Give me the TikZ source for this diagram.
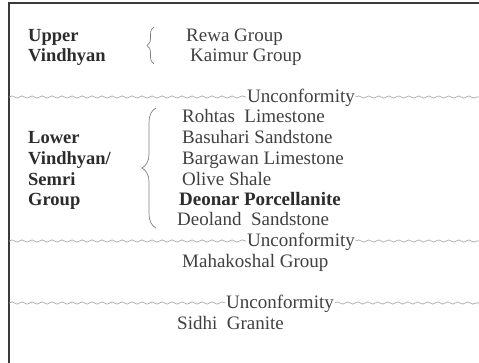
\documentclass[tikz,border=0pt]{standalone}
\usepackage{fontspec}
\setmainfont{Liberation Serif}
\usetikzlibrary{decorations.pathmorphing,decorations.pathreplacing}
\definecolor{txt}{HTML}{404040}
\definecolor{bld}{HTML}{2C2C2C}
\definecolor{wave}{HTML}{A0A0A0}
\definecolor{frm}{HTML}{3A3A3A}
\definecolor{brcol}{HTML}{808080}
\begin{document}
\begin{tikzpicture}[x=1pt,y=-1pt,
  lbl/.style={font=\fontsize{19}{21}\selectfont, text=txt, anchor=base west, inner sep=0pt},
  bl/.style={font=\bfseries\fontsize{18.5}{21}\selectfont, text=bld, anchor=base west, inner sep=0pt},
  unc/.style={font=\fontsize{19}{21}\selectfont, text=txt, anchor=base, inner sep=0.5pt},
  wavy/.style={draw=wave, line width=0.6pt, decorate, decoration={snake, amplitude=1.1pt, segment length=10pt}},
  brc/.style={draw=brcol, line width=0.7pt, decorate, decoration={brace, amplitude=#1}},
  frame/.style={draw=frm, line width=2pt}]
\useasboundingbox (0,0) rectangle (479,362);
% frame
\coordinate (fbl) at (9,363);
\coordinate (ftl) at (9,3);
\coordinate (ftr) at (480,3);
\draw[frame] (fbl) -- (ftl) -- (ftr);

% upper section
\node[bl] (up) at (28,41) {Upper};
\node[bl] (uv) at (28,61) {Vindhyan};
\node[lbl] (rewa) at (186,41) {Rewa Group};
\node[lbl] (kaimur) at (190,61) {Kaimur Group};
\coordinate (b1s) at (154,64);
\coordinate (b1e) at (154,27);
\draw[brc=7pt] (b1s) -- (b1e);

% unconformity 1
\node[unc] (u1) at (301,102) {Unconformity};
\coordinate (l1) at (9,97);
\coordinate (r1) at (479,97);
\draw[wavy] (l1) -- (u1.west |- l1);
\draw[wavy] (u1.east |- r1) -- (r1);

% lower section
\node[bl] (lo) at (28,143) {Lower};
\node[bl] (lv) at (28,164) {Vindhyan/};
\node[bl] (ls) at (28,185) {Semri};
\node[bl] (lg) at (28,205) {Group};
\node[lbl] (roh) at (182,122) {Rohtas~~Limestone};
\node[lbl] (bas) at (182,143) {Basuhari Sandstone};
\node[lbl] (bar) at (182,164) {Bargawan Limestone};
\node[lbl] (oli) at (182,185) {Olive Shale};
\node[bl, font=\bfseries\fontsize{19}{21}\selectfont] (deo) at (179,205) {Deonar Porcellanite};
\node[lbl] (del) at (177,225) {Deoland~~Sandstone};
\coordinate (b2s) at (156,228);
\coordinate (b2e) at (156,108);
\draw[brc=14pt] (b2s) -- (b2e);

% unconformity 2
\node[unc] (u2) at (301,246) {Unconformity};
\coordinate (l2) at (9,241);
\coordinate (r2) at (479,241);
\draw[wavy] (l2) -- (u2.west |- l2);
\draw[wavy] (u2.east |- r2) -- (r2);
\node[lbl] (mah) at (182,267) {Mahakoshal Group};

% unconformity 3
\node[unc] (u3) at (280,308) {Unconformity};
\coordinate (l3) at (9,303);
\coordinate (r3) at (479,303);
\draw[wavy] (l3) -- (u3.west |- l3);
\draw[wavy] (u3.east |- r3) -- (r3);
\node[lbl] (sid) at (177,329) {Sidhi~~Granite};
\end{tikzpicture}
\end{document}
